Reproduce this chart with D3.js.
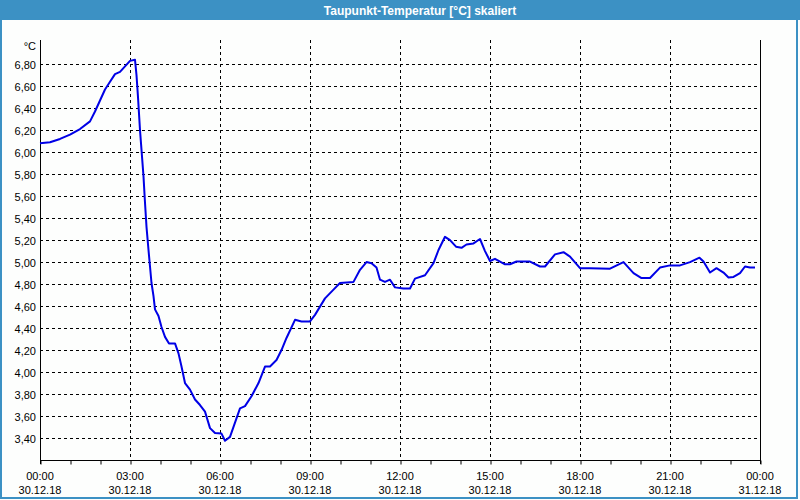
<!DOCTYPE html>
<html>
<head>
<meta charset="utf-8">
<script src="https://cdn.jsdelivr.net/npm/d3@7/dist/d3.min.js"></script>
<style>
  html, body { margin: 0; padding: 0; background: #fdfefd; }
  svg { display: block; }
</style>
</head>
<body>
<svg id="chart" width="800" height="500"></svg>
<script>
// ---- data ----
const title = "Taupunkt-Temperatur [°C] skaliert";
const unitLabel = "°C";
// minutes since 30.12.18 00:00
const timesMin = [0, 20, 40, 60, 80, 100, 110, 120, 130, 140, 150, 160, 170, 180, 190, 193, 196, 200, 203, 207, 210, 213, 217, 220, 223, 227, 230, 237, 243, 250, 258, 270, 277, 283, 290, 300, 310, 320, 330, 340, 350, 363, 370, 380, 390, 400, 410, 423, 437, 450, 460, 473, 483, 493, 510, 523, 540, 550, 570, 587, 600, 627, 640, 653, 663, 673, 680, 690, 700, 710, 727, 740, 750, 770, 787, 797, 810, 820, 832, 843, 853, 867, 880, 890, 900, 910, 930, 940, 953, 980, 1000, 1010, 1030, 1047, 1060, 1080, 1100, 1140, 1167, 1187, 1203, 1220, 1240, 1260, 1280, 1300, 1319, 1327, 1340, 1353, 1367, 1377, 1387, 1400, 1410, 1420, 1430];
const dewPoint = [6.08, 6.09, 6.12, 6.16, 6.21, 6.28, 6.37, 6.47, 6.57, 6.64, 6.71, 6.73, 6.78, 6.83, 6.84, 6.70, 6.50, 6.20, 6.02, 5.78, 5.54, 5.32, 5.11, 4.96, 4.81, 4.69, 4.57, 4.51, 4.41, 4.32, 4.26, 4.26, 4.17, 4.05, 3.90, 3.84, 3.75, 3.70, 3.64, 3.49, 3.445, 3.44, 3.375, 3.41, 3.54, 3.67, 3.69, 3.78, 3.90, 4.05, 4.05, 4.11, 4.20, 4.31, 4.475, 4.46, 4.46, 4.52, 4.67, 4.75, 4.81, 4.82, 4.93, 5.00, 4.99, 4.95, 4.84, 4.82, 4.84, 4.77, 4.76, 4.76, 4.85, 4.88, 4.99, 5.11, 5.23, 5.20, 5.14, 5.13, 5.16, 5.17, 5.21, 5.10, 5.01, 5.03, 4.98, 4.98, 5.005, 5.005, 4.96, 4.96, 5.07, 5.09, 5.05, 4.945, 4.945, 4.94, 5.00, 4.90, 4.855, 4.855, 4.95, 4.97, 4.97, 5.00, 5.04, 5.005, 4.905, 4.945, 4.905, 4.86, 4.865, 4.90, 4.96, 4.95, 4.95];
const yTicks = [3.4, 3.6, 3.8, 4.0, 4.2, 4.4, 4.6, 4.8, 5.0, 5.2, 5.4, 5.6, 5.8, 6.0, 6.2, 6.4, 6.6, 6.8];
const xMajorMin = [0, 180, 360, 540, 720, 900, 1080, 1260, 1440];
const xTimeLabels = ["00:00", "03:00", "06:00", "09:00", "12:00", "15:00", "18:00", "21:00", "00:00"];
const xDateLabels = ["30.12.18", "30.12.18", "30.12.18", "30.12.18", "30.12.18", "30.12.18", "30.12.18", "30.12.18", "31.12.18"];
const xMinorMin = d3.range(0, 1441, 60);

// ---- layout ----
const W = 800, H = 500;
const L = 40, R = 760, T = 40, B = 460;
const svg = d3.select("#chart");
const font = "'Liberation Sans', Arial, sans-serif";

const x = d3.scaleLinear().domain([0, 1440]).range([L, R]);
const y = d3.scaleLinear().domain([3.2, 7.02]).range([B, T]);

// background
svg.append("rect").attr("x", 0).attr("y", 0).attr("width", W).attr("height", H).attr("fill", "#fdfefd");
// title bar
svg.append("rect").attr("x", 0).attr("y", 0).attr("width", W).attr("height", 20).attr("fill", "#3c91c4");
svg.append("text").attr("x", 420).attr("y", 14.5).attr("text-anchor", "middle")
  .attr("fill", "#ffffff").attr("font-family", font).attr("font-weight", "bold").attr("font-size", "12px")
  .text(title);
// outer border
svg.append("rect").attr("x", 1).attr("y", 0).attr("width", 796).attr("height", 498)
  .attr("fill", "none").attr("stroke", "#3c91c4").attr("stroke-width", 2);

// horizontal grid
svg.append("g").selectAll("line").data(yTicks).join("line")
  .attr("x1", L).attr("x2", R)
  .attr("y1", d => Math.round(y(d)) + 0.5).attr("y2", d => Math.round(y(d)) + 0.5)
  .attr("stroke", "#000").attr("stroke-width", 1).attr("stroke-dasharray", "3,3");
// vertical grid
svg.append("g").selectAll("line").data(xMajorMin.slice(1, -1)).join("line")
  .attr("x1", d => Math.round(x(d)) + 0.5).attr("x2", d => Math.round(x(d)) + 0.5)
  .attr("y1", T).attr("y2", B)
  .attr("stroke", "#000").attr("stroke-width", 1).attr("stroke-dasharray", "3,3");

// frame: left, right, bottom
svg.append("line").attr("x1", L + 0.5).attr("x2", L + 0.5).attr("y1", T).attr("y2", B + 4).attr("stroke", "#000");
svg.append("line").attr("x1", R + 0.5).attr("x2", R + 0.5).attr("y1", T).attr("y2", B + 4).attr("stroke", "#000");

// bottom axis with hourly ticks
const xAxis = d3.axisBottom(x).tickValues(xMinorMin).tickSize(4).tickFormat("");
const gx = svg.append("g").attr("transform", `translate(0.5,${B + 0.5})`).call(xAxis);
gx.select(".domain").attr("d", `M${L},0H${R}`).attr("stroke", "#000");
gx.selectAll(".tick line").attr("stroke", "#000");

// x labels
const xl = svg.append("g").attr("font-family", font).attr("font-size", "11px").attr("fill", "#000");
xl.selectAll("text.t").data(xMajorMin).join("text").attr("class", "t")
  .attr("x", d => x(d)).attr("y", 479.5).attr("text-anchor", "middle")
  .text((d, i) => xTimeLabels[i]);
xl.selectAll("text.d").data(xMajorMin).join("text").attr("class", "d")
  .attr("x", d => x(d)).attr("y", 493.5).attr("text-anchor", "middle")
  .text((d, i) => xDateLabels[i]);

// y labels
const yl = svg.append("g").attr("font-family", font).attr("font-size", "11px").attr("fill", "#000");
yl.selectAll("text").data(yTicks).join("text")
  .attr("x", 36).attr("y", d => y(d) + 4.5).attr("text-anchor", "end")
  .text(d => d3.format(".2f")(d).replace(".", ","));
yl.append("text").attr("x", 36).attr("y", 49.5).attr("text-anchor", "end").text(unitLabel);

// line
const pts = timesMin.map((t, i) => [t, dewPoint[i]]);
svg.append("path").datum(pts)
  .attr("fill", "none").attr("stroke", "#0000e6").attr("stroke-width", 2)
  .attr("stroke-linejoin", "round")
  .attr("d", d3.line().x(d => x(d[0])).y(d => y(d[1])));
</script>
</body>
</html>
